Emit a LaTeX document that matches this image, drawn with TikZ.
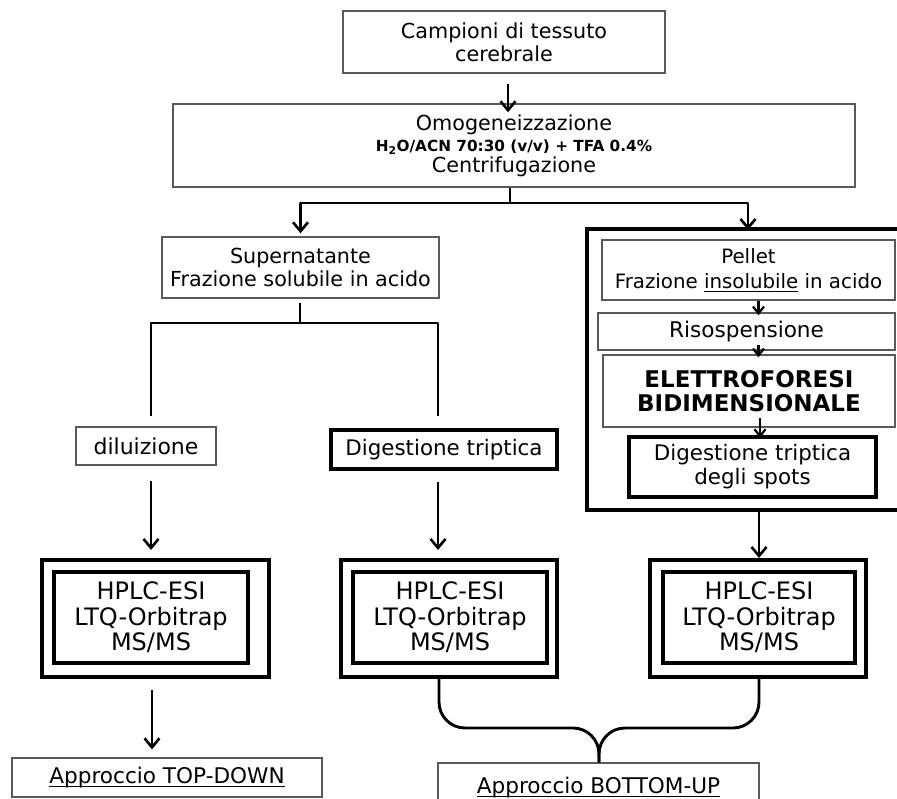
\documentclass[tikz,border=0pt]{standalone}
\usepackage{fontspec}
\setmainfont{DejaVu Sans}
\usetikzlibrary{arrows.meta}
\newcommand{\fsz}[2]{\fontsize{#1}{#2}\selectfont}
\newsavebox{\myulbox}
\newcommand{\myul}[1]{\sbox{\myulbox}{#1}\leavevmode\rlap{\raisebox{-3.5pt}{\rule{\wd\myulbox}{1.1pt}}}\usebox{\myulbox}}
\begin{document}
\begin{tikzpicture}[x=1pt,y=-1pt,
  thinbox/.style={draw=black!65, line width=1.4pt, inner sep=0pt, align=center, font=\fsz{20.7}{23}},
  thickbox/.style={draw=black, line width=4pt, inner sep=0pt, align=center, font=\fsz{20.7}{23}},
  conn/.style={draw=black, line width=2.9pt, line join=round},
  arr/.style={conn, -{Straight Barb[length=9pt,width=15pt,line width=2.6pt]}},
  sarr/.style={draw=black, line width=2.2pt, -{Straight Barb[length=7pt,width=11pt,line width=2.2pt]}},
  hplctext/.style={font=\fsz{24}{25.5}}
]
\useasboundingbox (0,0) rectangle (897,799);

% top
\node[thinbox, minimum width=322pt, minimum height=62pt] (camp) at (504,42) {Campioni di tessuto\\cerebrale};
\node[thinbox, minimum width=682pt, minimum height=83pt, font=\fsz{20.7}{22}] (omog) at (514,145.5)
  {Omogeneizzazione\\[-1pt]{\bfseries\fsz{15.3}{16}H\textsubscript{2}O/ACN 70:30 (v/v) + TFA 0.4\%}\\[-1pt]Centrifugazione};

% left branch
\node[thinbox, minimum width=277pt, minimum height=61pt, font=\fsz{20.7}{23}] (super) at (300.5,267.5) {Supernatante\\Frazione solubile in acido};
\node[thinbox, minimum width=140pt, minimum height=38pt, font=\fsz{22}{24}] (dil) at (146,446) {diluizione};
\node[thickbox, minimum width=226pt, minimum height=39pt, font=\fsz{21.4}{22}] (dtrip) at (444,449.5) {Digestione triptica};

% right branch
\node[thickbox, minimum width=318pt, minimum height=281pt] (pbox) at (746,369.5) {};
\node[thinbox, minimum width=293pt, minimum height=60pt, font=\fsz{19.8}{25}] (pellet) at (748.5,270) {Pellet\\Frazione \myul{insolubile} in acido};
\node[thinbox, minimum width=297pt, minimum height=37pt, font=\fsz{21.6}{24}] (riso) at (746.5,331.5) {Risospensione};
\node[thinbox, minimum width=292pt, minimum height=72pt, font=\fsz{23}{24.5}\bfseries] (elet) at (749,391) {ELETTROFORESI\\BIDIMENSIONALE};
\node[thickbox, minimum width=247pt, minimum height=60pt, font=\fsz{21.4}{24}] (dspots) at (752.5,467) {Digestione triptica\\degli spots};

% HPLC boxes
\node[thickbox, minimum width=227pt, minimum height=117pt] (hpo1) at (155.5,618.5) {};
\node[thickbox, line width=3.5pt, minimum width=194pt, minimum height=91pt, hplctext] (hpi1) at (151,617.5) {HPLC-ESI\\LTQ-Orbitrap\\MS/MS};
\node[thickbox, minimum width=216pt, minimum height=117pt] (hpo2) at (449,618.5) {};
\node[thickbox, line width=3.5pt, minimum width=194pt, minimum height=91pt, hplctext] (hpi2) at (450,617.5) {HPLC-ESI\\LTQ-Orbitrap\\MS/MS};
\node[thickbox, minimum width=216pt, minimum height=117pt] (hpo3) at (758,618.5) {};
\node[thickbox, line width=3.5pt, minimum width=192pt, minimum height=91pt, hplctext] (hpi3) at (759,617.5) {HPLC-ESI\\LTQ-Orbitrap\\MS/MS};

% results
\node[thinbox, minimum width=310pt, minimum height=39pt, font=\fsz{21.6}{24}] (td) at (167,777.5) {\myul{Approccio TOP-DOWN}};
\node[thinbox, minimum width=321pt, minimum height=52pt, text depth=0pt, font=\fsz{21.6}{24}] (bu) at (598.5,789) {\raisebox{7pt}{\myul{Approccio BOTTOM-UP}}};

% coordinates
\coordinate (c0) at ([xshift=4pt]camp.south);
\coordinate (split) at (510,203);
\coordinate (split2) at (300,323);
\coordinate (L1) at (151,416);
\coordinate (R1) at (438,416);
\coordinate (d1) at ([xshift=5pt]dil.south);
\coordinate (d2) at ([xshift=-6pt]dtrip.south);
\coordinate (p1) at ([xshift=10pt]pellet.south);
\coordinate (r1) at ([xshift=12pt]riso.south);
\coordinate (e1) at ([xshift=11pt]elet.south);
\coordinate (b3) at ([xshift=13pt]pbox.south);
\coordinate (h1) at ([xshift=-3.5pt]hpo1.south);
\coordinate (c2) at ([xshift=-10pt]hpo2.south);
\coordinate (c3) at ([xshift=1pt]hpo3.south);
\coordinate (meet) at (599,728);

% connectors
\draw[arr, shorten <=10pt, shorten >=-9pt] (c0) -- (c0 |- omog.north);
\draw[conn] (omog.south -| split) -- (split);
\draw[arr, shorten >=3pt] (split) -| (super.north);
\draw[arr, shorten >=-3pt] (split) -| ([xshift=2pt]pbox.north);
\draw[conn, shorten <=4pt] (super.south -| split2) -- (split2);
\draw[conn] (split2) -| (L1);
\draw[conn] (split2) -| (R1);
\draw[arr, shorten <=15pt, shorten >=8pt] (d1) -- (d1 |- hpo1.north);
\draw[arr, shorten <=11pt, shorten >=8pt] (d2) -- (d2 |- hpo2.north);
\draw[sarr, shorten >=-3pt] (p1) -- (p1 |- riso.north);
\draw[sarr, shorten <=-6pt, shorten >=-3pt] (r1) -- (r1 |- elet.north);
\draw[sarr, shorten <=-10pt, shorten >=-3pt] (e1) -- (e1 |- dspots.north);
\draw[arr] (b3) -- (b3 |- hpo3.north);
\draw[arr, shorten <=11pt, shorten >=8pt] (h1) -- (h1 |- td.north);
\draw[conn, rounded corners=26pt] (c2) |- (meet) -- (meet |- bu.north);
\draw[conn, rounded corners=26pt] (c3) |- (meet) -- (meet |- bu.north);
\end{tikzpicture}
\end{document}
